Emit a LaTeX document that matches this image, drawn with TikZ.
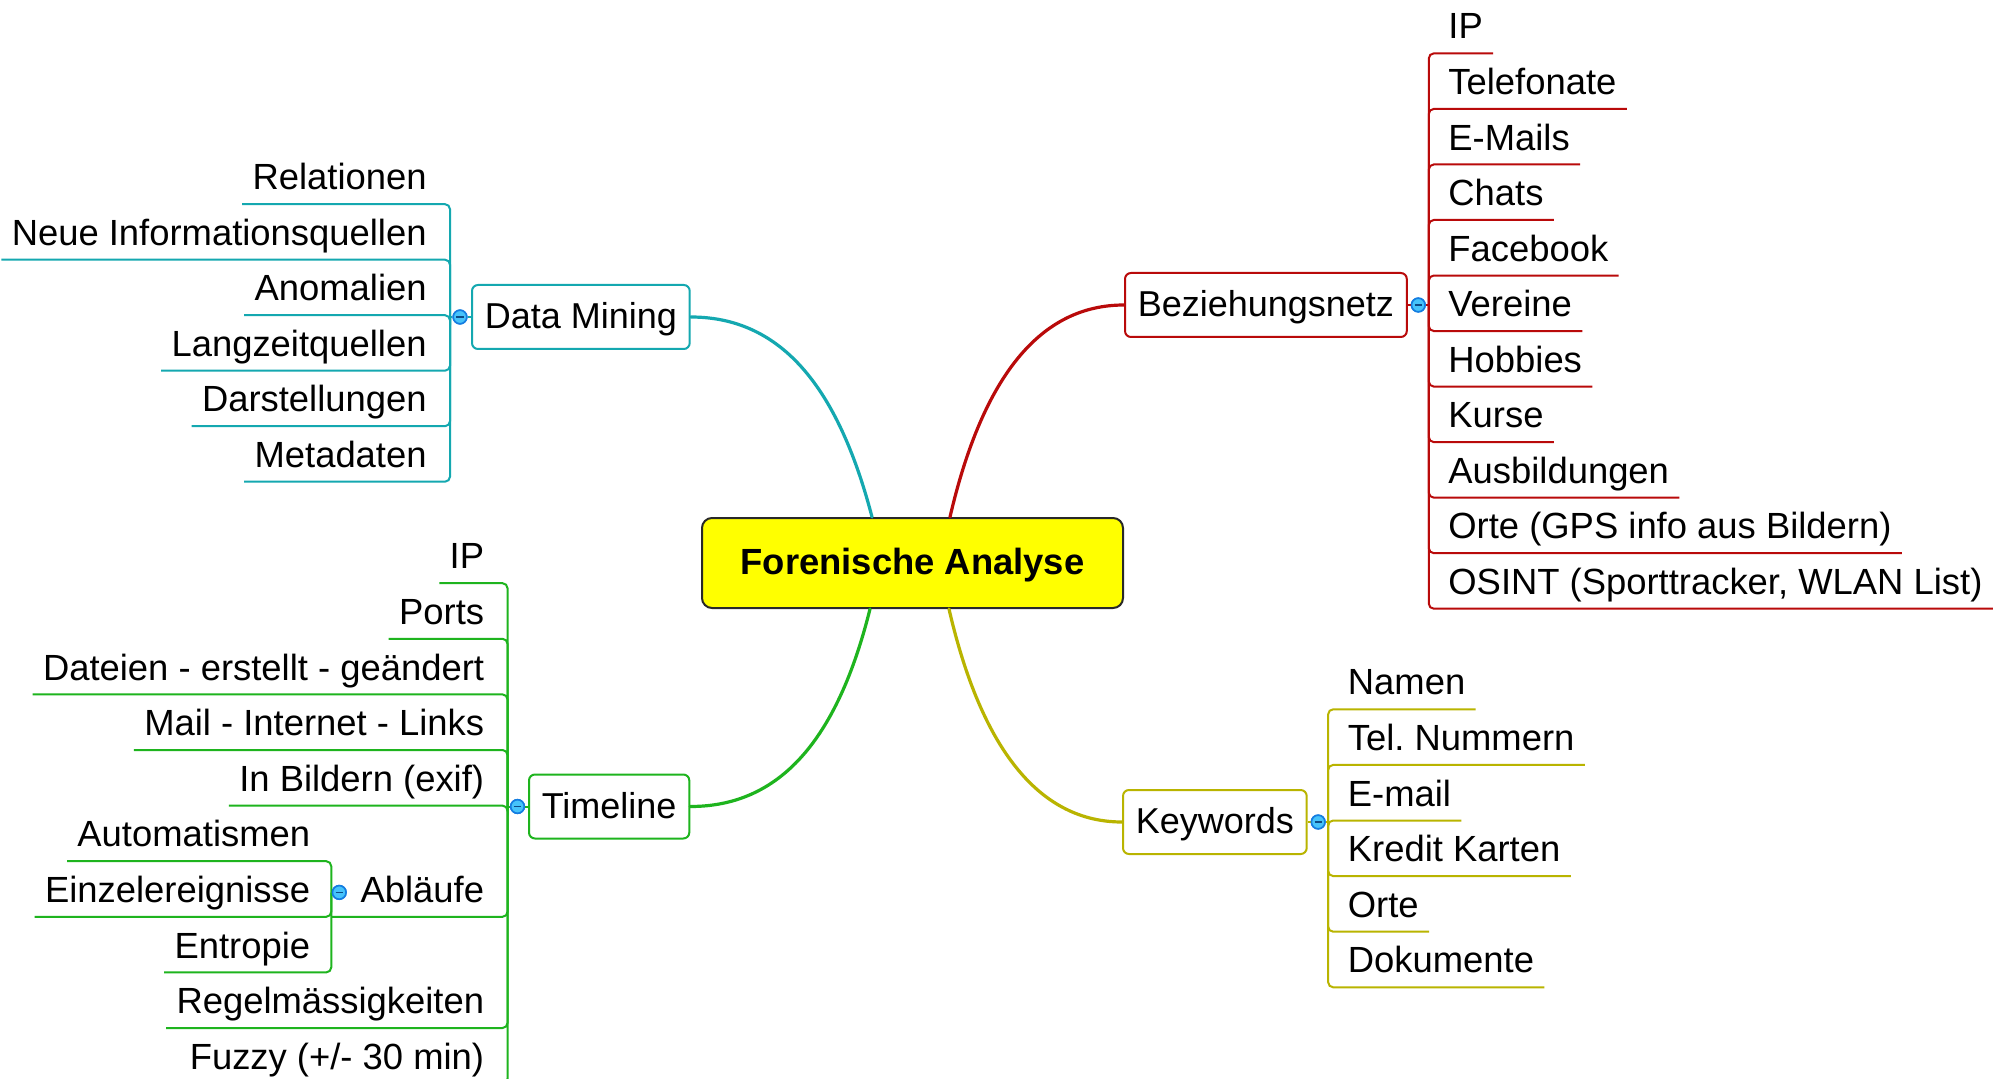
\documentclass[tikz,border=0pt]{standalone}
\usepackage{fontspec}
\setmainfont{Liberation Sans}
\usetikzlibrary{calc}

\definecolor{mmteal}{RGB}{20,168,176}
\definecolor{mmred}{RGB}{185,10,10}
\definecolor{mmgreen}{RGB}{30,180,30}
\definecolor{mmolive}{RGB}{185,180,0}
\definecolor{knobfill}{RGB}{70,195,250}
\definecolor{knobline}{RGB}{20,125,225}
\definecolor{rootfill}{RGB}{255,255,0}
\definecolor{rootline}{RGB}{40,40,40}

\begin{document}
\frenchspacing
\begin{tikzpicture}[x=0.5pt,y=-0.5pt,
  every node/.style={font=\fontsize{18.2pt}{21pt}\selectfont, text=black},
  root/.style={draw=rootline, fill=rootfill, line width=1pt, rounded corners=5pt,
    minimum width=210.5pt, minimum height=45pt, inner sep=0pt,
    font=\fontsize{18.2pt}{21pt}\selectfont\bfseries, text height=13pt, text depth=2pt},
  topic/.style={draw, fill=white, line width=1pt, rounded corners=3pt,
    font=\fontsize{18pt}{21pt}\selectfont,
    inner xsep=6.4pt, inner ysep=0pt, minimum height=32pt,
    text height=13pt, text depth=1.5pt},
  leaf/.style={inner xsep=5pt, inner ysep=4pt, text height=13pt, text depth=3pt},
  branch/.style={line width=1.6pt, line cap=round},
  twig/.style={line width=1pt, rounded corners=2.5pt},
  knob/.style={circle, draw=knobline, fill=knobfill, line width=0.8pt,
    minimum size=6.8pt, inner sep=0pt,
    path picture={\draw[line width=0.8pt, draw=knobline!60!black]
      ([xshift=-1.8pt]path picture bounding box.center) --
      ([xshift=1.8pt]path picture bounding box.center);}},
]
\useasboundingbox (0,0) rectangle (2011,1079);
\fill[white] (0,0) rectangle (2011,1079);
\clip (0,0) rectangle (2011,1079);

% central topic
\node[root] (fa) at (912.5,563) {Forenische Analyse};

% ---------------- Data Mining (left, top)
\node[topic, draw=mmteal, anchor=west] (dm) at (471,317) {Data Mining};
\node[knob] (dmk) at ($(dm.west)+(-11,0)$) {};
\coordinate (dmt) at ($(dmk)+(-10,0)$);
\draw[twig, mmteal] (dm.west) -- (dmk) -- (dmt);
\foreach \t [count=\i] in {Relationen, Neue Informationsquellen, Anomalien,
    Langzeitquellen, Darstellungen, Metadaten}{
  \node[leaf, anchor=south east] (dm\i) at (437,{204.2+55.5*(\i-1)}) {\t};
  \draw[twig, mmteal] (dmt) |- (dm\i.south west);
}
\draw[branch, mmteal] (dm.east) .. controls +(88,0) and +(-35,-134) .. ($(fa.north)+(-40.5,0)$);

% ---------------- Beziehungsnetz (right, top)
\node[topic, draw=mmred, anchor=west] (bz) at (1124,305) {Beziehungsnetz};
\node[knob] (bzk) at ($(bz.east)+(10.5,0)$) {};
\coordinate (bzt) at ($(bzk)+(10.5,0)$);
\draw[twig, mmred] (bz.east) -- (bzk) -- (bzt);
\foreach \t [count=\i] in {IP, Telefonate, E-Mails, Chats, Facebook, Vereine,
    Hobbies, Kurse, Ausbildungen, Orte (GPS info aus Bildern),
    {OSINT (Sporttracker, WLAN List)}}{
  \node[leaf, anchor=south west] (bz\i) at (1438,{53.4+55.53*(\i-1)}) {\t};
  \draw[twig, mmred] (bzt) |- (bz\i.south east);
}
\draw[branch, mmred] (bz.west) .. controls +(-83,0) and +(33,-142) .. ($(fa.north)+(37.5,0)$);

% ---------------- Timeline (left, bottom)
\node[topic, draw=mmgreen, anchor=west] (tl) at (528,806.5) {Timeline};
\node[knob] (tlk) at ($(tl.west)+(-10.5,0)$) {};
\coordinate (tlt) at ($(tlk)+(-10,0)$);
\draw[twig, mmgreen] (tl.west) -- (tlk) -- (tlt);
\node[leaf, anchor=south east] (tl1) at (494.5,583.2) {IP};
\node[leaf, anchor=south east] (tl2) at (494.5,638.8) {Ports};
\node[leaf, anchor=south east] (tl3) at (494.5,694.4) {Dateien - erstellt - geändert};
\node[leaf, anchor=south east] (tl4) at (494.5,750.0) {Mail - Internet - Links};
\node[leaf, anchor=south east] (tl5) at (494.5,805.6) {In Bildern (exif)};
\node[leaf, anchor=south east] (ab)  at (494.5,916.8) {Abläufe};
\node[leaf, anchor=south east] (tl7) at (494.5,1028.0) {Regelmässigkeiten};
\node[leaf, anchor=south east] (tl8) at (494.5,1083.6) {Fuzzy (+/- 30 min)};
\foreach \n in {tl1,tl2,tl3,tl4,tl5,tl7,tl8}{
  \draw[twig, mmgreen] (tlt) |- (\n.south west);
}
% sub-branch "Abläufe"
\node[knob] (abk) at ($(ab.west)+(-11,0)$) {};
\coordinate (abt) at ($(abk)+(-8,0)$);
\draw[twig, mmgreen] (tlt) |- (abt |- ab.south);
\draw[twig, mmgreen] (abk) -- (abt);
\node[leaf, anchor=south east] (ab1) at (320.5,861.2) {Automatismen};
\node[leaf, anchor=south east] (ab2) at (320.5,916.8) {Einzelereignisse};
\node[leaf, anchor=south east] (ab3) at (320.5,972.4) {Entropie};
\foreach \n in {ab1,ab2,ab3}{
  \draw[twig, mmgreen] (abt) |- (\n.south west);
}
\draw[branch, mmgreen] (tl.east) .. controls +(89,0) and +(-33,132) .. ($(fa.south)+(-42.5,0)$);

% ---------------- Keywords (right, bottom)
\node[topic, draw=mmolive, anchor=west] (kw) at (1122,822) {Keywords};
\node[knob] (kwk) at ($(kw.east)+(10.5,0)$) {};
\coordinate (kwt) at ($(kwk)+(10,0)$);
\draw[twig, mmolive] (kw.east) -- (kwk) -- (kwt);
\foreach \t [count=\i] in {Namen, Tel. Nummern, E-mail, Kredit Karten, Orte, Dokumente}{
  \node[leaf, anchor=south west] (kw\i) at (1337.5,{709.3+55.6*(\i-1)}) {\t};
  \draw[twig, mmolive] (kwt) |- (kw\i.south east);
}
\draw[branch, mmolive] (kw.west) .. controls +(-81,0) and +(33,143) .. ($(fa.south)+(36.5,0)$);

% knobs on top of their stems
\foreach \k in {dmk,bzk,tlk,abk,kwk}{
  \node[knob] at (\k) {};
}
\end{tikzpicture}
\end{document}
